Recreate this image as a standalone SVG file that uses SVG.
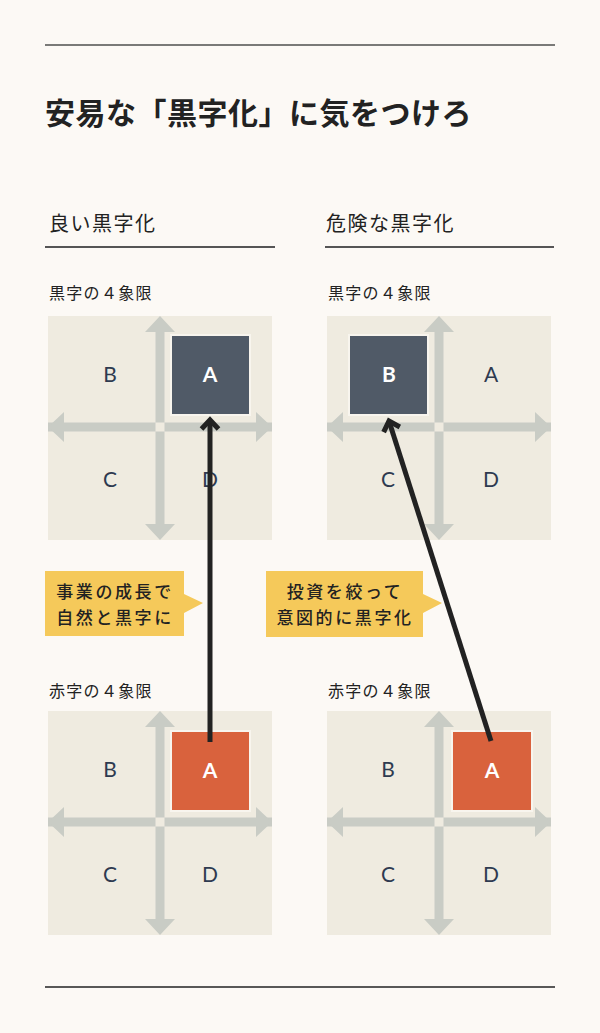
<svg xmlns="http://www.w3.org/2000/svg" width="600" height="1033" viewBox="0 0 600 1033">
<style>
.jp{font-family:"Noto Sans CJK JP","Noto Sans",sans-serif;fill:#222}
.title{font-size:30px;font-weight:700;letter-spacing:0.5px}
.sec{font-size:20px;letter-spacing:1.5px}
.sub{font-size:16px;letter-spacing:1.3px}
.call{font-size:17px;font-weight:500;letter-spacing:2.6px;text-anchor:middle}
.q{font-family:Lato,"Open Sans",sans-serif;font-size:21px;fill:#2e3a50;text-anchor:middle}
.qw{font-family:Lato,"Open Sans",sans-serif;font-size:21px;font-weight:700;fill:#fff;text-anchor:middle}
.conn{stroke:#222;stroke-width:5;fill:none;marker-end:url(#ah)}
</style>
<defs>
<g id="quad">
<rect x="0" y="0" width="224" height="224" fill="#efebe0"/>
<path d="M107.5 16 H116.5 V208 H107.5 Z M0 106.5 V115.5 H224 V106.5 Z" fill="#c9ccc5"/>
<path d="M112 0 L127 16 H97 Z M112 224 L127 208 H97 Z M0 111 L16 96 V126 Z M224 111 L208 96 V126 Z" fill="#c9ccc5"/>
</g>
<marker id="ah" markerUnits="userSpaceOnUse" markerWidth="30" markerHeight="30" refX="0" refY="0" orient="auto" viewBox="-20 -15 30 30">
<path d="M-9 -8.5 L0 0 L-9 8.5" fill="none" stroke="#222" stroke-width="5" stroke-linejoin="miter"/>
</marker>
</defs>
<rect width="600" height="1033" fill="#fcf9f5"/>
<line x1="45" y1="45" x2="555" y2="45" stroke="#7a7a78" stroke-width="2"/>
<text class="jp title" x="45" y="124">安易な「黒字化」に気をつけろ</text>

<g id="good-header">
<text class="jp sec" x="49" y="231">良い黒字化</text>
<line x1="45" y1="247" x2="275" y2="247" stroke="#555" stroke-width="2"/>
</g>
<g id="bad-header">
<text class="jp sec" x="326" y="231">危険な黒字化</text>
<line x1="325" y1="247" x2="554" y2="247" stroke="#555" stroke-width="2"/>
</g>

<g id="good-black">
<text class="jp sub" x="49" y="299">黒字の４象限</text>
<use href="#quad" x="48" y="316"/>
<rect x="170" y="334" width="81" height="82" fill="#f8f5ee"/>
<rect x="172" y="336" width="77" height="78" fill="#505a67"/>
<text class="qw" x="210" y="382">A</text>
<text class="q" x="110" y="382">B</text>
<text class="q" x="110" y="487">C</text>
<text class="q" x="210" y="487">D</text>
</g>

<g id="bad-black">
<text class="jp sub" x="328" y="299">黒字の４象限</text>
<use href="#quad" x="327" y="316"/>
<rect x="348" y="334" width="81" height="82" fill="#f8f5ee"/>
<rect x="350" y="336" width="77" height="78" fill="#505a67"/>
<text class="qw" x="389" y="382">B</text>
<text class="q" x="491" y="382">A</text>
<text class="q" x="388" y="487">C</text>
<text class="q" x="491" y="487">D</text>
</g>

<g id="good-red">
<text class="jp sub" x="49" y="697">赤字の４象限</text>
<use href="#quad" x="48" y="711"/>
<rect x="170" y="730" width="81" height="82" fill="#f8f5ee"/>
<rect x="172" y="732" width="77" height="78" fill="#d9623d"/>
<text class="qw" x="210" y="778">A</text>
<text class="q" x="110" y="777">B</text>
<text class="q" x="110" y="882">C</text>
<text class="q" x="210" y="882">D</text>
</g>

<g id="bad-red">
<text class="jp sub" x="328" y="697">赤字の４象限</text>
<use href="#quad" x="327" y="711"/>
<rect x="451" y="730" width="82" height="82" fill="#f8f5ee"/>
<rect x="453" y="732" width="78" height="78" fill="#d9623d"/>
<text class="qw" x="492" y="778">A</text>
<text class="q" x="388" y="777">B</text>
<text class="q" x="388" y="882">C</text>
<text class="q" x="491" y="882">D</text>
</g>

<g id="connectors">
<line class="conn" x1="210" y1="742" x2="210" y2="420"/>
<line class="conn" x1="491" y1="741" x2="389" y2="421"/>
</g>

<g id="callout-good">
<path d="M45 571 H184 V594 L203 603 L184 613 V636 H45 Z" fill="#f5c95a"/>
<text class="jp call" x="115" y="598">事業の成長で</text>
<text class="jp call" x="115" y="624">自然と黒字に</text>
</g>
<g id="callout-bad">
<path d="M266 571 H423 V594 L442 603 L423 613 V637 H266 Z" fill="#f5c95a"/>
<text class="jp call" x="345" y="598">投資を絞って</text>
<text class="jp call" x="345" y="624">意図的に黒字化</text>
</g>

<line x1="45" y1="987" x2="555" y2="987" stroke="#222" stroke-width="1.5"/>
</svg>
